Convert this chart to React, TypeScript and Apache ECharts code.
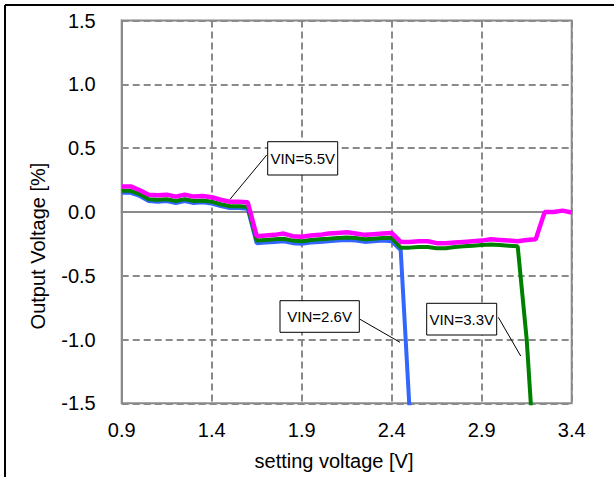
import React, { useEffect, useRef } from "react";
import * as echarts from "echarts";

const voltages = [
  "0.90", "0.95", "1.00", "1.05", "1.10", "1.15", "1.20", "1.25", "1.30", "1.35",
  "1.40", "1.45", "1.50", "1.55", "1.60", "1.65", "1.70", "1.75", "1.80", "1.85",
  "1.90", "1.95", "2.00", "2.05", "2.10", "2.15", "2.20", "2.25", "2.30", "2.35",
  "2.40", "2.45", "2.50", "2.55", "2.60", "2.65", "2.70", "2.75", "2.80", "2.85",
  "2.90", "2.95", "3.00", "3.05", "3.10", "3.15", "3.20", "3.25", "3.30", "3.35",
  "3.40",
];

const vin55 = [
  0.2, 0.2, 0.17, 0.135, 0.13, 0.135, 0.12, 0.135, 0.12, 0.125,
  0.115, 0.095, 0.08, 0.08, 0.075, -0.19, -0.185, -0.18, -0.17, -0.19,
  -0.195, -0.185, -0.18, -0.17, -0.165, -0.16, -0.17, -0.18, -0.175, -0.17,
  -0.165, -0.235, -0.235, -0.23, -0.23, -0.245, -0.245, -0.24, -0.235, -0.23,
  -0.225, -0.215, -0.22, -0.225, -0.23, -0.22, -0.215, 0.0, 0.0, 0.01,
  -0.005,
];

const vin33 = [
  0.165, 0.165, 0.14, 0.1, 0.095, 0.1, 0.085, 0.1, 0.085, 0.09,
  0.08, 0.06, 0.045, 0.045, 0.04, -0.225, -0.22, -0.215, -0.21, -0.225,
  -0.23, -0.22, -0.215, -0.21, -0.205, -0.2, -0.205, -0.215, -0.21, -0.205,
  -0.205, -0.28, -0.28, -0.275, -0.275, -0.285, -0.285, -0.275, -0.27, -0.265,
  -0.26, -0.255, -0.26, -0.265, -0.27, -1.0, -2.1, null, null, null,
  null,
];

const vin26 = [
  0.15, 0.15, 0.125, 0.085, 0.08, 0.085, 0.07, 0.085, 0.07, 0.075,
  0.065, 0.045, 0.03, 0.03, 0.025, -0.245, -0.24, -0.235, -0.23, -0.245,
  -0.25, -0.24, -0.235, -0.23, -0.225, -0.22, -0.225, -0.235, -0.23, -0.225,
  -0.23, -0.3, -1.57, -3.0, null, null, null, null, null, null,
  null, null, null, null, null, null, null, null, null, null,
  null,
];

const labelTexts = ["VIN=5.5V", "VIN=2.6V", "VIN=3.3V"];

const FONT = "'Liberation Sans', Arial, sans-serif";

export default function App() {
  const ref = useRef<HTMLDivElement>(null);
  useEffect(() => {
    if (!ref.current) return;
    const chart = echarts.init(ref.current, undefined, { renderer: "svg" });
    const gridColor = "#8a8a8a";
    const box = (x: number, y: number, w: number, h: number, text: string, lx1: number, ly1: number, lx2: number, ly2: number) => [
      { type: "line", z: 100, shape: { x1: lx1, y1: ly1, x2: lx2, y2: ly2 }, style: { stroke: "#000", lineWidth: 1 } },
      { type: "rect", z: 100, shape: { x, y, width: w, height: h }, style: { fill: "#fff", stroke: "#000", lineWidth: 1 } },
      {
        type: "text", z: 101, x: x + w / 2, y: y + h / 2,
        style: { text, fontSize: 15, fontFamily: FONT, fill: "#000", align: "center", verticalAlign: "middle" },
      },
    ];
    chart.setOption({
      animation: false,
      backgroundColor: "#fff",
      grid: { left: 121.7, top: 20.5, width: 450, height: 382.8, show: true, borderColor: gridColor, borderWidth: 2, containLabel: false },
      xAxis: {
        type: "category",
        data: voltages,
        boundaryGap: false,
        axisLine: { show: true, lineStyle: { color: gridColor, width: 2 } },
        axisTick: { show: false },
        axisLabel: {
          interval: 9,
          margin: 17,
          fontSize: 20,
          fontFamily: FONT,
          color: "#000",
          formatter: (v: string) => parseFloat(v).toFixed(1),
        },
        splitLine: { show: true, interval: 9, lineStyle: { color: gridColor, width: 2, type: [7, 4] } },
      },
      yAxis: {
        type: "value",
        min: -1.5,
        max: 1.5,
        interval: 0.5,
        axisLine: { show: true, lineStyle: { color: gridColor, width: 2 } },
        axisTick: { show: false },
        axisLabel: {
          margin: 26,
          fontSize: 20,
          fontFamily: FONT,
          color: "#000",
          formatter: (v: number) => v.toFixed(1),
        },
        splitLine: { show: true, lineStyle: { color: gridColor, width: 2, type: [7, 4] } },
      },
      series: [
        { name: "VIN=2.6V", type: "line", data: vin26, showSymbol: false, symbol: "none", lineStyle: { color: "#3366ff", width: 4 }, itemStyle: { color: "#3366ff" }, clip: true, z: 2 },
        { name: "VIN=3.3V", type: "line", data: vin33, showSymbol: false, symbol: "none", lineStyle: { color: "#008000", width: 4 }, itemStyle: { color: "#008000" }, clip: true, z: 3 },
        { name: "VIN=5.5V", type: "line", data: vin55, showSymbol: false, symbol: "none", lineStyle: { color: "#ff00ff", width: 4.5 }, itemStyle: { color: "#ff00ff" }, clip: true, z: 4 },
      ],
      graphic: [
        { type: "line", shape: { x1: 5, y1: 5, x2: 614, y2: 5 }, style: { stroke: "#000", lineWidth: 2 } },
        { type: "line", shape: { x1: 5, y1: 5, x2: 5, y2: 477 }, style: { stroke: "#000", lineWidth: 2 } },
        {
          type: "text", x: 334, y: 461,
          style: { text: "setting voltage [V]", fontSize: 20, fontFamily: FONT, fill: "#000", align: "center", verticalAlign: "middle" },
        },
        {
          type: "text", x: 38, y: 246, rotation: Math.PI / 2,
          style: { text: "Output Voltage [%]", fontSize: 20, fontFamily: FONT, fill: "#000", align: "center", verticalAlign: "middle" },
        },
        ...box(267.7, 141.7, 70, 33.3, labelTexts[0], 266.7, 155, 230, 199.3),
        ...box(280, 300.7, 79.3, 31.6, labelTexts[1], 360, 319.3, 400, 342.3),
        ...box(426.7, 303.3, 70, 31.7, labelTexts[2], 498.3, 317.3, 520.7, 356),
      ],
    });
    return () => chart.dispose();
  }, []);
  return <div ref={ref} style={{ position: "absolute", left: 0, top: 0, width: 614, height: 477 }} />;
}
